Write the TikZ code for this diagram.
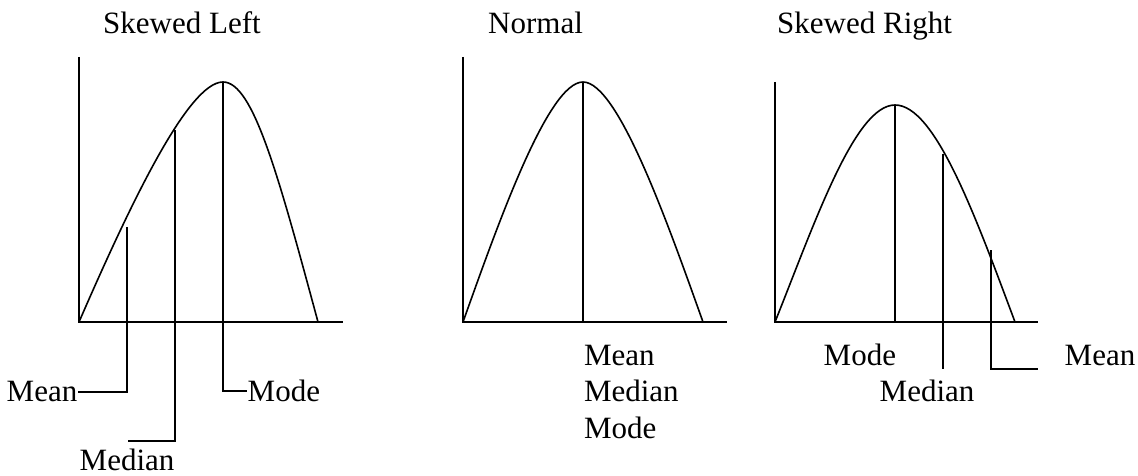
\documentclass[tikz,border=0pt]{standalone}
\usepackage{fontspec}
\setmainfont{Liberation Serif}
\usepackage{tikz}
\usetikzlibrary{positioning,calc}
\tikzset{
  axisline/.style={draw=black, line width=1.8pt},
  curveline/.style={draw=black, line width=1.6pt},
  markline/.style={draw=black, line width=1.8pt},
  lbl/.style={inner sep=0.5pt, font=\fontsize{31}{37}\selectfont},
  titletext/.style={inner sep=0pt, anchor=base west, font=\fontsize{31}{37}\selectfont}
}

\begin{document}
\begin{tikzpicture}[x=1pt, y=-1pt]
  \useasboundingbox (0,0) rectangle (1138,476);

  % Skewed left
  \node[titletext] (tleft) at (103,33.3) {Skewed Left};
  \coordinate (laxtop) at (79,57);
  \coordinate (lorig) at (79,322);
  \coordinate (laxend) at (343,322);
  \coordinate (lpeak) at (223,82);
  \draw[axisline] (laxtop) -- (lorig) -- (laxend);
  \draw[curveline] (lorig) .. controls (129,207) and (188,82) .. (lpeak)
        .. controls (253,82) and (278,174) .. (318,322);

  \node[lbl, anchor=base east] (lmean) at (78,401.7) {Mean};
  \node[lbl, anchor=base west] (lmode) at (247,401.7) {Mode};
  \node[lbl, anchor=base west] (lmedian) at (79,470.5) {Median};
  \coordinate (lmeantop) at (127,227);
  \coordinate (lmedtop) at (175,130);
  \coordinate (lmedcorner) at (175,441);
  \coordinate (lmedend) at (127.7,441);
  \draw[markline] (lmean.east) -| (lmeantop);
  \draw[markline] (lpeak) |- (lmode.west);
  \draw[markline] (lmedtop) -- (lmedcorner) -- (lmedend);

  % Normal
  \node[titletext] (tnormal) at (488,33.3) {Normal};
  \coordinate (naxtop) at (463,57);
  \coordinate (norig) at (463,322);
  \coordinate (naxend) at (727,322);
  \coordinate (npeak) at (583,82);
  \coordinate (nfoot) at (583,322);
  \draw[axisline] (naxtop) -- (norig) -- (naxend);
  \draw[curveline] (norig) .. controls (498,224) and (548,82) .. (npeak)
        .. controls (618,82) and (668,224) .. (703,322);
  \draw[markline] (npeak) -- (nfoot);

  \node[lbl, anchor=base west] (nmean) at (583.3,365) {Mean};
  \node[lbl, anchor=base west] (nmedian) at (583.3,401.7) {Median};
  \node[lbl, anchor=base west] (nmode) at (583.3,438.4) {Mode};

  % Skewed right
  \node[titletext] (tright) at (777,33.3) {Skewed Right};
  \coordinate (raxtop) at (775,82);
  \coordinate (rorig) at (775,322);
  \coordinate (raxend) at (1038,322);
  \coordinate (rpeak) at (895,105);
  \coordinate (rfoot) at (895,322);
  \draw[axisline] (raxtop) -- (rorig) -- (raxend);
  \draw[curveline] (rorig) .. controls (815,222) and (855,105) .. (rpeak)
        .. controls (935,105) and (975,215) .. (1015,322);
  \draw[markline] (rpeak) -- (rfoot);

  \node[lbl, anchor=base west] (rmode) at (823,365) {Mode};
  \node[lbl, anchor=base west] (rmedian) at (879,401.7) {Median};
  \node[lbl, anchor=base west] (rmean) at (1064,365) {Mean};
  \coordinate (rmedtop) at (942.7,154);
  \coordinate (rmedbot) at (942.7,369);
  \coordinate (rmeantop) at (991,250);
  \coordinate (rmeancorner) at (991,369);
  \coordinate (rmeanend) at (1038,369);
  \draw[markline] (rmedtop) -- (rmedbot);
  \draw[markline] (rmeantop) -- (rmeancorner) -- (rmeanend);
\end{tikzpicture}
\end{document}
